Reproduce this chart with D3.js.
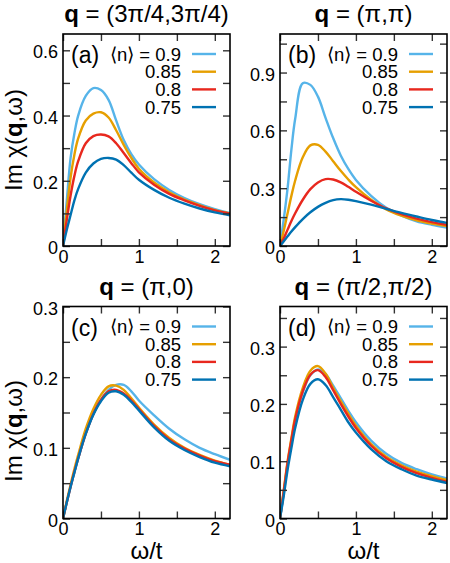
<!DOCTYPE html>
<html>
<head>
<meta charset="utf-8">
<script src="https://cdn.jsdelivr.net/npm/d3@7"></script>
<style>
  body { margin: 0; background: #fff; }
  svg text { font-family: "Liberation Sans", Arial, sans-serif; }
</style>
</head>
<body>
<svg width="450" height="563"></svg>
<script>
// frequency grid (omega / t) shared by all panels
var omega = [0, 0.05, 0.1, 0.15, 0.2, 0.3, 0.4, 0.5, 0.6, 0.7, 0.8, 0.9, 1.0, 1.2, 1.4, 1.6, 1.8, 2.0, 2.2];

var fillings = ["0.9", "0.85", "0.8", "0.75"];
var colours = ["#56B4E9", "#E69F00", "#E8281E", "#0072B2"];

// Im chi(q, omega) for <n> = 0.9, 0.85, 0.8, 0.75
var panelA = [
  [0, 0.14, 0.27, 0.345, 0.4, 0.46, 0.484, 0.478, 0.448, 0.385, 0.325, 0.282, 0.25, 0.205, 0.172, 0.147, 0.128, 0.113, 0.101],
  [0, 0.11, 0.21, 0.28, 0.33, 0.385, 0.406, 0.41, 0.394, 0.355, 0.31, 0.27, 0.237, 0.195, 0.165, 0.142, 0.125, 0.11, 0.1],
  [0, 0.08, 0.155, 0.215, 0.26, 0.315, 0.337, 0.342, 0.336, 0.315, 0.285, 0.254, 0.226, 0.188, 0.16, 0.14, 0.123, 0.109, 0.099],
  [0, 0.05, 0.095, 0.14, 0.175, 0.225, 0.253, 0.267, 0.27, 0.265, 0.248, 0.225, 0.203, 0.172, 0.148, 0.13, 0.115, 0.103, 0.094]
];
var panelB = [
  [0, 0.14, 0.3, 0.5, 0.66, 0.845, 0.836, 0.775, 0.665, 0.56, 0.47, 0.4, 0.343, 0.26, 0.198, 0.157, 0.128, 0.11, 0.095],
  [0, 0.08, 0.17, 0.26, 0.34, 0.46, 0.522, 0.525, 0.49, 0.44, 0.39, 0.345, 0.305, 0.24, 0.19, 0.157, 0.133, 0.116, 0.103],
  [0, 0.04, 0.085, 0.13, 0.17, 0.24, 0.295, 0.33, 0.347, 0.345, 0.33, 0.307, 0.282, 0.235, 0.195, 0.165, 0.142, 0.124, 0.11],
  [0, 0.025, 0.05, 0.075, 0.098, 0.14, 0.175, 0.203, 0.224, 0.238, 0.243, 0.24, 0.233, 0.215, 0.193, 0.172, 0.153, 0.135, 0.12]
];
var panelC = [
  [0, 0.023, 0.045, 0.066, 0.085, 0.12, 0.148, 0.168, 0.182, 0.189, 0.189, 0.18, 0.167, 0.146, 0.127, 0.112, 0.1, 0.091, 0.083],
  [0, 0.025, 0.048, 0.07, 0.09, 0.127, 0.155, 0.175, 0.187, 0.188, 0.182, 0.17, 0.157, 0.133, 0.114, 0.1, 0.09, 0.082, 0.076],
  [0, 0.023, 0.045, 0.066, 0.085, 0.12, 0.148, 0.168, 0.18, 0.182, 0.177, 0.167, 0.155, 0.131, 0.112, 0.099, 0.089, 0.081, 0.076],
  [0, 0.023, 0.045, 0.065, 0.085, 0.12, 0.147, 0.166, 0.178, 0.18, 0.175, 0.165, 0.153, 0.129, 0.11, 0.097, 0.087, 0.079, 0.074]
];
var panelD = [
  [0, 0.045, 0.093, 0.133, 0.17, 0.22, 0.25, 0.26, 0.252, 0.232, 0.21, 0.188, 0.168, 0.136, 0.113, 0.097, 0.086, 0.077, 0.07],
  [0, 0.05, 0.1, 0.14, 0.178, 0.228, 0.258, 0.266, 0.253, 0.228, 0.205, 0.183, 0.162, 0.13, 0.108, 0.093, 0.082, 0.074, 0.067],
  [0, 0.048, 0.097, 0.137, 0.173, 0.222, 0.251, 0.259, 0.247, 0.224, 0.2, 0.178, 0.158, 0.127, 0.105, 0.09, 0.079, 0.071, 0.064],
  [0, 0.04, 0.085, 0.123, 0.158, 0.207, 0.235, 0.243, 0.233, 0.212, 0.19, 0.168, 0.15, 0.121, 0.1, 0.086, 0.075, 0.068, 0.062]
];

var titles = ["(3\u03c0/4,3\u03c0/4)", "(\u03c0,\u03c0)", "(\u03c0,0)", "(\u03c0/2,\u03c0/2)"];
var tags = ["(a)", "(b)", "(c)", "(d)"];
var yMax = [0.65, 1.1, 0.3, 0.37];
var yLabelTicks = [[0, 0.2, 0.4, 0.6], [0, 0.3, 0.6, 0.9], [0, 0.1, 0.2, 0.3], [0, 0.1, 0.2, 0.3]];
var yMinorStep = [0.1, 0.15, 0.05, 0.05];
var xLabelTicks = [0, 1, 2];
var xMinorTicks = [0, 0.5, 1, 1.5, 2];

var svg = d3.select("svg");
var values = [panelA, panelB, panelC, panelD];
var pw = 167, ph = 212,
    lefts = [63, 280],
    tops = [34, 306.5];

var fmt = function(d) { return d === 0 ? "0" : d3.format(".1f")(d); };

values.forEach(function(series, i) {
  var x0 = lefts[i % 2], y0 = tops[Math.floor(i / 2)];
  var x = d3.scaleLinear().domain([0, 2.2]).range([0, pw]),
      y = d3.scaleLinear().domain([0, yMax[i]]).range([ph, 0]);

  var g = svg.append("g").attr("transform", "translate(" + x0 + "," + y0 + ")");

  g.append("clipPath").attr("id", "clip" + i)
    .append("rect").attr("width", pw).attr("height", ph);

  var line = d3.line()
      .x(function(d, j) { return x(omega[j]); })
      .y(function(d) { return y(d); })
      .curve(d3.curveCatmullRom.alpha(0.5));

  g.append("g").attr("clip-path", "url(#clip" + i + ")")
    .selectAll("path")
    .data(series)
    .enter().append("path")
      .attr("d", line)
      .attr("fill", "none")
      .attr("stroke", function(d, k) { return colours[k]; })
      .attr("stroke-width", 2.4);

  // inward ticks on all four sides
  var yMinor = d3.range(0, yMax[i] + 1e-9, yMinorStep[i]);
  var tickAxes = [
    [d3.axisLeft(y).tickValues(yMinor), "translate(0,0)"],
    [d3.axisRight(y).tickValues(yMinor), "translate(" + pw + ",0)"],
    [d3.axisBottom(x).tickValues(xMinorTicks), "translate(0," + ph + ")"],
    [d3.axisTop(x).tickValues(xMinorTicks), "translate(0,0)"]
  ];
  tickAxes.forEach(function(a) {
    var ax = g.append("g")
        .attr("transform", a[1])
        .call(a[0].tickSize(-7).tickFormat(""));
    ax.select(".domain").remove();
    ax.selectAll("line").attr("stroke", "#333").attr("stroke-width", 1.4);
  });

  g.append("rect")
      .attr("width", pw).attr("height", ph)
      .attr("fill", "none").attr("stroke", "#000").attr("stroke-width", 1.6);

  // tick labels
  var yl = g.append("g")
      .call(d3.axisLeft(y).tickValues(yLabelTicks[i]).tickSize(0).tickPadding(5).tickFormat(fmt));
  yl.select(".domain").remove();
  yl.selectAll("text").attr("dy", "0.42em");
  yl.attr("font-size", 18).attr("font-family", null);

  var xl = g.append("g")
      .attr("transform", "translate(0," + ph + ")")
      .call(d3.axisBottom(x).tickValues(xLabelTicks).tickSize(0).tickPadding(4).tickFormat(d3.format("d")));
  xl.select(".domain").remove();
  xl.attr("font-size", 18).attr("font-family", null);

  // panel title
  var t = svg.append("text")
      .attr("x", x0 + pw / 2)
      .attr("y", y0 - 12)
      .attr("text-anchor", "middle")
      .attr("font-size", 24);
  t.append("tspan").attr("font-weight", "bold").text("q");
  t.append("tspan").text(" = " + titles[i]);

  // legend
  g.append("text")
      .attr("x", 8).attr("y", 29)
      .attr("font-size", 23)
      .text(tags[i]);

  var leg = g.selectAll(".leg")
      .data(fillings)
    .enter().append("g")
      .attr("class", "leg")
      .attr("transform", function(d, k) { return "translate(0," + (20 + 17.7 * k) + ")"; });

  leg.append("text")
      .attr("x", 118).attr("y", 6.5)
      .attr("text-anchor", "end")
      .attr("font-size", 18.5)
      .text(function(d, k) { return k === 0 ? "\u27e8n\u27e9 = " + d : d; });

  leg.append("line")
      .attr("x1", 129).attr("x2", 153)
      .attr("stroke", function(d, k) { return colours[k]; })
      .attr("stroke-width", 2.4);

  // axis titles
  if (i % 2 === 0) {
    var yt = svg.append("text")
        .attr("transform", "translate(22," + (i === 0 ? 140 : 431) + ") rotate(-90)")
        .attr("text-anchor", "middle")
        .attr("font-size", 24);
    yt.append("tspan").text("Im \u03c7(");
    yt.append("tspan").attr("font-weight", "bold").text("q");
    yt.append("tspan").text(",\u03c9)");
  }
  if (i >= 2) {
    svg.append("text")
        .attr("x", x0 + pw / 2)
        .attr("y", 559)
        .attr("text-anchor", "middle")
        .attr("font-size", 24)
        .text("\u03c9/t");
  }
});
</script>
</body>
</html>
